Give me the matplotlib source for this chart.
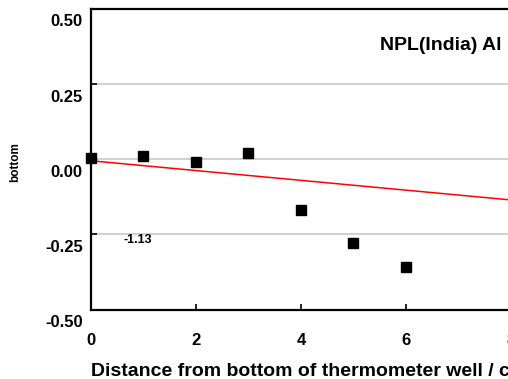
import matplotlib.pyplot as plt
import matplotlib.transforms as mtransforms

plt.rcParams['font.family'] = ['Liberation Sans', 'DejaVu Sans']

# Data
distance = [0, 1, 2, 3, 4, 5, 6]
deviation = [0.005, 0.01, -0.01, 0.02, -0.17, -0.28, -0.36]
fit_x = [0, 8.5]
fit_intercept = -0.005
fit_slope = -0.0163
fit_y = [fit_intercept + fit_slope * x for x in fit_x]

xticks = [0, 2, 4, 6, 8]
yticks = [0.50, 0.25, 0.00, -0.25, -0.50]
ytick_labels = ['0.50', '0.25', '0.00', '-0.25', '-0.50']

W, H = 508, 379
fig = plt.figure(figsize=(W / 100, H / 100), dpi=100)
ax = fig.add_axes([91 / W, 69.5 / H, 446 / W, 300.5 / H])

ax.plot(fit_x, fit_y, color='red', lw=1.1, zorder=2)
ax.plot(distance, deviation, 's', color='black', ms=7, zorder=3, clip_on=False)

ax.set_xlim(0, 8.5)
ax.set_ylim(-0.5, 0.5)
ax.set_xticks(xticks)
ax.set_xticklabels([str(t) for t in xticks])
ax.set_yticks(yticks)
ax.set_yticklabels(ytick_labels)

ax.grid(axis='y', color='#c8c8c8', lw=1.2)
ax.set_axisbelow(True)
ax.tick_params(direction='in', length=4, width=1.2, labelsize=12)
ax.tick_params(axis='x', pad=17)
ax.tick_params(axis='y', pad=6)
for lbl in ax.get_xticklabels() + ax.get_yticklabels():
    lbl.set_fontweight('bold')

# y tick labels sit a little below their ticks in the reference
offset = mtransforms.ScaledTranslation(0, -11.5 / 100, fig.dpi_scale_trans)
for lbl in ax.get_yticklabels():
    lbl.set_transform(lbl.get_transform() + offset)

for side in ['left', 'bottom', 'top']:
    ax.spines[side].set_linewidth(1.6)
ax.spines['right'].set_visible(False)

fig.text(502 / W, 1 - 45 / H, 'NPL(India) Al', ha='right', va='center',
         fontsize=14, fontweight='bold')
fig.text(123 / W, 1 - 240 / H, '-1.13', ha='left', va='center',
         fontsize=9, fontweight='bold')
fig.text(15 / W, 1 - 162 / H, 'bottom', rotation=90, ha='center', va='center',
         fontsize=8.5, fontweight='bold')
fig.text(91 / W, 1 - 363 / H, 'Distance from bottom of thermometer well / cm',
         ha='left', va='top', fontsize=14, fontweight='bold')

plt.savefig('out.png', dpi=100)
plt.close()
